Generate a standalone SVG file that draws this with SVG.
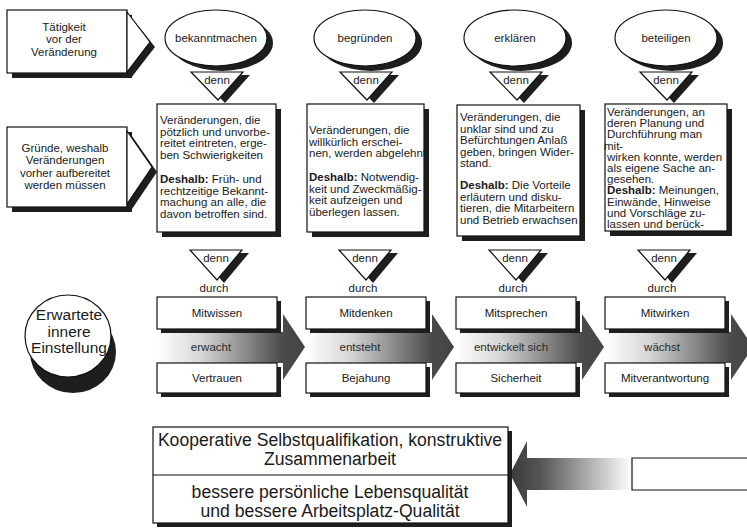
<svg xmlns="http://www.w3.org/2000/svg" width="747" height="529" viewBox="0 0 747 529">
<style>
.sh{fill:#1e1e1e}
.bx{fill:#fff;stroke:#111;stroke-width:1.2}
.t{font-family:"Liberation Sans",Arial,sans-serif;font-size:11.5px;fill:#1a1a1a}
.c{text-anchor:middle}
.b{font-weight:bold}
.big{font-family:"Liberation Sans",Arial,sans-serif;font-size:17.6px;fill:#1a1a1a;text-anchor:middle}
.ew{font-family:"Liberation Sans",Arial,sans-serif;font-size:15.5px;fill:#1a1a1a;text-anchor:middle}
.band{font-family:"Liberation Sans",Arial,sans-serif;font-size:11.5px;fill:#2a2a2a;text-anchor:middle}
</style>
<defs>
<linearGradient id="gr" x1="0" y1="0" x2="1" y2="0">
<stop offset="0" stop-color="#ffffff"/>
<stop offset="0.3" stop-color="#d6d6d6"/>
<stop offset="0.85" stop-color="#4a4a4a"/>
<stop offset="1" stop-color="#444"/>
</linearGradient>
<linearGradient id="gl" x1="0" y1="0" x2="1" y2="0">
<stop offset="0" stop-color="#3a3a3a"/>
<stop offset="0.25" stop-color="#555"/>
<stop offset="1" stop-color="#ffffff"/>
</linearGradient>
<path id="tri" d="M-26,0 H26 L1,28 Z"/>
<path id="tri2" d="M-26,0 H26 L1,30 Z"/>
</defs>

<!-- left labels -->
<g id="label-taetigkeit">
<rect class="sh" x="12" y="15" width="120" height="63"/>
<polygon class="sh" points="131,17 155,47 131,78"/>
<rect class="bx" x="7" y="10" width="120" height="63"/>
<polygon class="bx" points="127,12 150,42 127,72"/>
<text class="t c" font-size="11" x="64" y="31">Tätigkeit</text>
<text class="t c" font-size="11" x="64" y="43">vor der</text>
<text class="t c" font-size="11" x="64" y="56">Veränderung</text>
</g>

<g id="label-gruende">
<rect class="sh" x="12" y="132" width="120" height="80"/>
<polygon class="sh" points="132,136 157,172 132,209"/>
<rect class="bx" x="7" y="127" width="120" height="80"/>
<polygon class="bx" points="127,131 152,167 127,204"/>
<text class="t c" font-size="11" x="65" y="152">Gründe, weshalb</text>
<text class="t c" font-size="11" x="65" y="164">Veränderungen</text>
<text class="t c" font-size="11" x="65" y="177">vorher aufbereitet</text>
<text class="t c" font-size="11" x="65" y="189">werden müssen</text>
</g>

<g id="label-einstellung">
<ellipse class="sh" cx="73" cy="352" rx="43" ry="41"/>
<ellipse class="bx" cx="68" cy="336" rx="43" ry="41"/>
<text class="ew" x="69" y="320">Erwartete</text>
<text class="ew" x="69" y="336.5">innere</text>
<text class="ew" x="69" y="353">Einstellung</text>
</g>

<!-- connectors: denn triangles and arrows -->
<g id="connectors">
<g transform="translate(217,72)"><use href="#tri" class="sh" x="7" y="3"/><use href="#tri" class="bx"/><text class="t c" x="0" y="12">denn</text></g>
<g transform="translate(366,72)"><use href="#tri" class="sh" x="7" y="3"/><use href="#tri" class="bx"/><text class="t c" x="0" y="12">denn</text></g>
<g transform="translate(516,72)"><use href="#tri" class="sh" x="7" y="3"/><use href="#tri" class="bx"/><text class="t c" x="0" y="12">denn</text></g>
<g transform="translate(666,72)"><use href="#tri" class="sh" x="7" y="3"/><use href="#tri" class="bx"/><text class="t c" x="0" y="12">denn</text></g>

<g transform="translate(216,250)"><use href="#tri2" class="sh" x="7" y="3"/><use href="#tri2" class="bx"/><text class="t c" x="0" y="12">denn</text><text class="t c" x="-2" y="42">durch</text></g>
<g transform="translate(365,250)"><use href="#tri2" class="sh" x="7" y="3"/><use href="#tri2" class="bx"/><text class="t c" x="0" y="12">denn</text><text class="t c" x="-2" y="42">durch</text></g>
<g transform="translate(515,250)"><use href="#tri2" class="sh" x="7" y="3"/><use href="#tri2" class="bx"/><text class="t c" x="0" y="12">denn</text><text class="t c" x="-2" y="42">durch</text></g>
<g transform="translate(664,250)"><use href="#tri2" class="sh" x="7" y="3"/><use href="#tri2" class="bx"/><text class="t c" x="0" y="12">denn</text><text class="t c" x="-2" y="42">durch</text></g>

<path fill="url(#gr)" d="M157,332 H283 V314 L305,347 L283,380 V363 H157 Z"/>
<path fill="url(#gr)" d="M306,332 H432 V314 L454,347 L432,380 V363 H306 Z"/>
<path fill="url(#gr)" d="M456,332 H582 V314 L604,347 L582,380 V363 H456 Z"/>
<path fill="url(#gr)" d="M605,332 H731 V314 L753,347 L731,380 V363 H605 Z"/>

<path fill="url(#gl)" d="M510,474 L527,441 V458 H632 V490 H527 V507 Z"/>
<path d="M747,458 H632 V490 H747" fill="#fff" stroke="#111" stroke-width="1.2"/>
</g>

<!-- ellipses -->
<g id="n-bekanntmachen"><ellipse class="sh" cx="222" cy="43" rx="51" ry="28"/><ellipse class="bx" cx="216" cy="38" rx="51" ry="28"/><text class="t c" x="216" y="42">bekanntmachen</text></g>
<g id="n-begruenden"><ellipse class="sh" cx="371" cy="43" rx="51" ry="28"/><ellipse class="bx" cx="365" cy="38" rx="51" ry="28"/><text class="t c" x="365" y="42">begründen</text></g>
<g id="n-erklaeren"><ellipse class="sh" cx="521" cy="43" rx="51" ry="28"/><ellipse class="bx" cx="515" cy="38" rx="51" ry="28"/><text class="t c" x="515" y="42">erklären</text></g>
<g id="n-beteiligen"><ellipse class="sh" cx="672" cy="43" rx="51" ry="28"/><ellipse class="bx" cx="666" cy="38" rx="51" ry="28"/><text class="t c" x="666" y="42">beteiligen</text></g>

<!-- text boxes -->
<g id="n-text1">
<rect class="sh" x="162" y="109" width="119" height="128"/>
<rect class="bx" x="157" y="104" width="119" height="128"/>
<text class="t" x="160" y="124">Veränderungen, die</text>
<text class="t" x="160" y="135.5">pötzlich und unvorbe-</text>
<text class="t" x="160" y="147">reitet eintreten, erge-</text>
<text class="t" x="160" y="158.5">ben Schwierigkeiten</text>
<text class="t" x="160" y="183"><tspan class="b">Deshalb:</tspan> Früh- und</text>
<text class="t" x="160" y="194.5">rechtzeitige Bekannt-</text>
<text class="t" x="160" y="206">machung an alle, die</text>
<text class="t" x="160" y="217.5">davon betroffen sind.</text>
</g>
<g id="n-text2">
<rect class="sh" x="312" y="109" width="117" height="128"/>
<rect class="bx" x="307" y="104" width="117" height="128"/>
<text class="t" x="309" y="134">Veränderungen, die</text>
<text class="t" x="309" y="145.5">willkürlich erschei-</text>
<text class="t" x="309" y="157">nen, werden abgelehnt</text>
<text class="t" x="309" y="181"><tspan class="b">Deshalb:</tspan> Notwendig-</text>
<text class="t" x="309" y="192.5">keit und Zweckmäßig-</text>
<text class="t" x="309" y="204">keit aufzeigen und</text>
<text class="t" x="309" y="215.5">überlegen lassen.</text>
</g>
<g id="n-text3">
<rect class="sh" x="462" y="110" width="123" height="131"/>
<rect class="bx" x="457" y="105" width="123" height="131"/>
<text class="t" x="460" y="121">Veränderungen, die</text>
<text class="t" x="460" y="132.5">unklar sind und zu</text>
<text class="t" x="460" y="144">Befürchtungen Anlaß</text>
<text class="t" x="460" y="155.5">geben, bringen Wider-</text>
<text class="t" x="460" y="167">stand.</text>
<text class="t" x="460" y="189"><tspan class="b">Deshalb:</tspan> Die Vorteile</text>
<text class="t" x="460" y="200.5">erläutern und disku-</text>
<text class="t" x="460" y="212">tieren, die Mitarbeitern</text>
<text class="t" x="460" y="223.5">und Betrieb erwachsen</text>
</g>
<g id="n-text4">
<rect class="sh" x="610" y="109" width="122" height="127"/>
<rect class="bx" x="605" y="104" width="122" height="127"/>
<text class="t" x="607" y="116">Veränderungen, an</text>
<text class="t" x="607" y="127.2">deren Planung und</text>
<text class="t" x="607" y="138.4">Durchführung man</text>
<text class="t" x="604" y="149.6">mit-</text>
<text class="t" x="607" y="160.8">wirken konnte, werden</text>
<text class="t" x="607" y="172">als eigene Sache an-</text>
<text class="t" x="607" y="183.2">gesehen.</text>
<text class="t" x="607" y="194.4"><tspan class="b">Deshalb:</tspan> Meinungen,</text>
<text class="t" x="607" y="205.6">Einwände, Hinweise</text>
<text class="t" x="607" y="216.8">und Vorschläge zu-</text>
<text class="t" x="607" y="228">lassen und berück-</text>
</g>

<!-- middle row -->
<g id="n-col1">
<rect class="sh" x="161" y="301" width="120" height="32"/><rect class="bx" x="157" y="297" width="120" height="32"/><text class="t c" x="217" y="317">Mitwissen</text>
<text class="band" x="211" y="351">erwacht</text>
<rect class="sh" x="161" y="367" width="120" height="30"/><rect class="bx" x="157" y="363" width="120" height="30"/><text class="t c" x="217" y="382">Vertrauen</text>
</g>
<g id="n-col2">
<rect class="sh" x="310" y="301" width="120" height="32"/><rect class="bx" x="306" y="297" width="120" height="32"/><text class="t c" x="366" y="317">Mitdenken</text>
<text class="band" x="360" y="351">entsteht</text>
<rect class="sh" x="310" y="367" width="120" height="30"/><rect class="bx" x="306" y="363" width="120" height="30"/><text class="t c" x="366" y="382">Bejahung</text>
</g>
<g id="n-col3">
<rect class="sh" x="460" y="301" width="120" height="32"/><rect class="bx" x="456" y="297" width="120" height="32"/><text class="t c" x="516" y="317">Mitsprechen</text>
<text class="band" x="511" y="351">entwickelt sich</text>
<rect class="sh" x="460" y="367" width="120" height="30"/><rect class="bx" x="456" y="363" width="120" height="30"/><text class="t c" x="516" y="382">Sicherheit</text>
</g>
<g id="n-col4">
<rect class="sh" x="609" y="301" width="120" height="32"/><rect class="bx" x="605" y="297" width="120" height="32"/><text class="t c" x="665" y="317">Mitwirken</text>
<text class="band" x="662" y="351">wächst</text>
<rect class="sh" x="609" y="367" width="120" height="30"/><rect class="bx" x="605" y="363" width="120" height="30"/><text class="t c" x="665" y="382">Mitverantwortung</text>
</g>

<!-- bottom result -->
<g id="n-ergebnis">
<rect class="sh" x="157" y="431" width="355" height="96"/>
<rect class="bx" x="153" y="427" width="355" height="96"/>
<line x1="153" y1="475" x2="508" y2="475" stroke="#111" stroke-width="1.2"/>
<text class="big" x="330" y="446">Kooperative Selbstqualifikation, konstruktive</text>
<text class="big" x="330" y="465">Zusammenarbeit</text>
<text class="big" x="330" y="498">bessere persönliche Lebensqualität</text>
<text class="big" x="330" y="517">und bessere Arbeitsplatz-Qualität</text>
</g>
</svg>
